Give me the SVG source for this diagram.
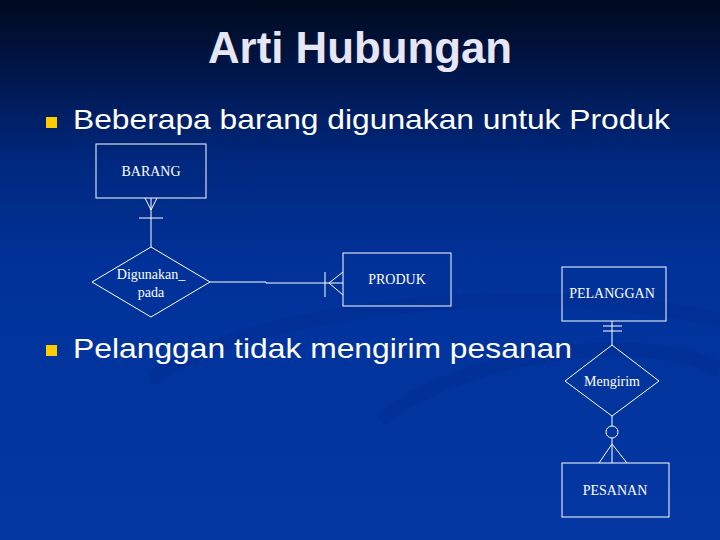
<svg xmlns="http://www.w3.org/2000/svg" width="720" height="540" viewBox="0 0 720 540">
<defs>
<linearGradient id="bg" x1="0" y1="0" x2="0" y2="1">
<stop offset="0" stop-color="#000a1e"/>
<stop offset="0.12" stop-color="#001546"/>
<stop offset="0.3" stop-color="#00287f"/>
<stop offset="0.5" stop-color="#00329a"/>
<stop offset="1" stop-color="#0537a3"/>
</linearGradient>
<style>
.ln{stroke:#ffffff;stroke-width:1;fill:none}
.box{stroke:#ffffff;stroke-width:1;fill:none}
.lbl{font-family:"Liberation Serif",serif;font-size:14px;fill:#ffffff;text-anchor:middle}
.bul{font-family:"Liberation Sans",Arial,sans-serif;font-size:28px;fill:#ffffff}
.sq{fill:#ffcc00}
</style>
</defs>
<rect x="0" y="0" width="720" height="540" fill="url(#bg)"/>
<g opacity="0.12" fill="none" stroke="#001a70" stroke-width="14">
<path d="M150 380 C260 300 560 280 720 320"/>
<path d="M380 420 C470 350 650 330 720 370"/>
</g>
<text x="360" y="63" text-anchor="middle" font-family="Liberation Sans,Arial,sans-serif" font-weight="bold" font-size="44" fill="#e6e6f7" textLength="304" lengthAdjust="spacingAndGlyphs">Arti Hubungan</text>
<g id="bullet1">
<rect class="sq" x="46" y="117" width="11" height="11"/>
<text class="bul" x="73" y="129" textLength="597" lengthAdjust="spacingAndGlyphs">Beberapa barang digunakan untuk Produk</text>
</g>
<g id="bullet2">
<rect class="sq" x="46" y="345" width="11" height="11"/>
<text class="bul" x="73" y="358" textLength="499" lengthAdjust="spacingAndGlyphs">Pelanggan tidak mengirim pesanan</text>
</g>
<g id="connectors">
<path class="ln" d="M151 198 V247"/>
<path class="ln" d="M145 198 L151 210 L157 198"/>
<path class="ln" d="M139 218 H163"/>
<path class="ln" d="M210 282 H266 V283 H343"/>
<path class="ln" d="M325 272 V297"/>
<path class="ln" d="M343 272 L329 283 L343 295"/>
<path class="ln" d="M612 321 V345"/>
<path class="ln" d="M603 326 H622 M603 331 H622"/>
<path class="ln" d="M612 416 V426 M612 438 V463"/>
<circle class="ln" cx="612" cy="432" r="6"/>
<path class="ln" d="M599 463 L612 444 L627 463"/>
</g>
<g id="barang">
<rect class="box" x="96" y="144" width="110" height="54"/>
<text class="lbl" x="151" y="176">BARANG</text>
</g>
<g id="digunakan">
<path class="box" d="M151 247 L210 282 L151 317 L92 282 Z"/>
<text class="lbl" x="151" y="279">Digunakan_</text>
<text class="lbl" x="151" y="297">pada</text>
</g>
<g id="produk">
<rect class="box" x="343" y="253" width="108" height="53"/>
<text class="lbl" x="397" y="284">PRODUK</text>
</g>
<g id="pelanggan">
<rect class="box" x="562" y="267" width="104" height="54"/>
<text class="lbl" x="612" y="298">PELANGGAN</text>
</g>
<g id="mengirim">
<path class="box" d="M612 345 L659 381 L612 416 L565 381 Z"/>
<text class="lbl" x="612" y="386">Mengirim</text>
</g>
<g id="pesanan">
<rect class="box" x="562" y="463" width="107" height="54"/>
<text class="lbl" x="615" y="495">PESANAN</text>
</g>
</svg>
